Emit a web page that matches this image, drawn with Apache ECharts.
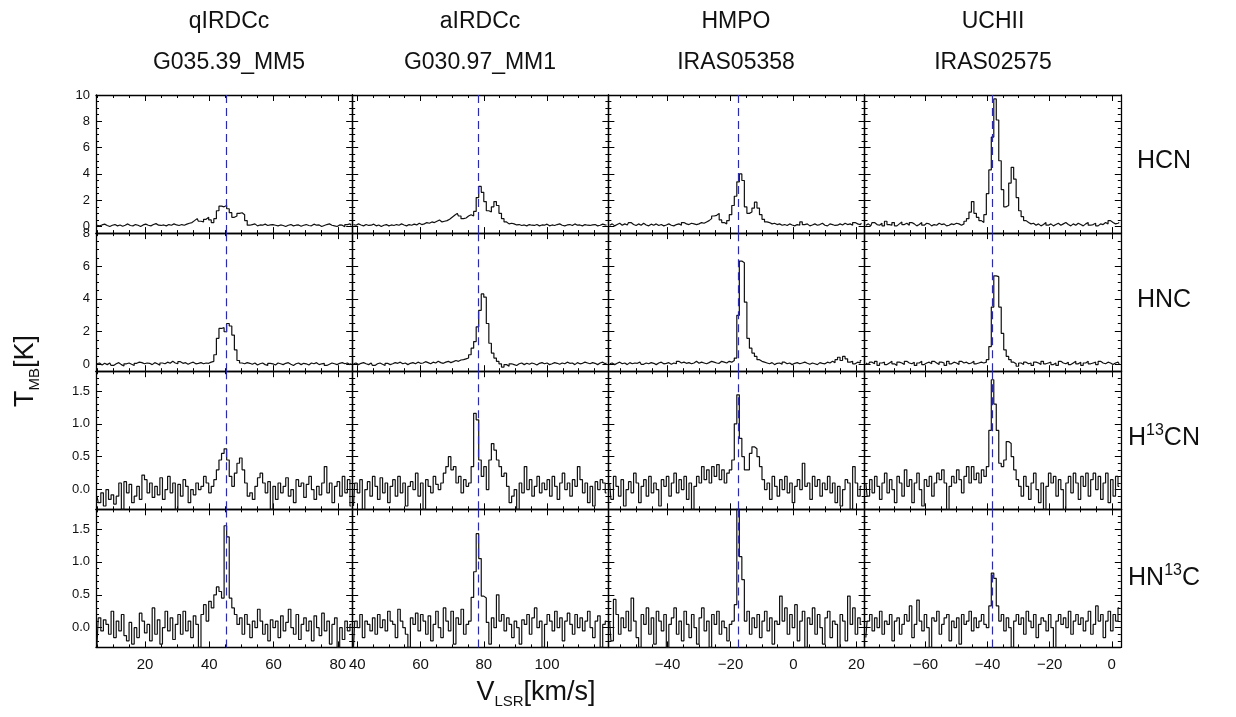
<!DOCTYPE html>
<html>
<head>
<meta charset="utf-8">
<title>HCN / HNC spectra</title>
<script src="https://cdn.jsdelivr.net/npm/echarts@6.0.0/dist/echarts.min.js"></script>
<style>
  html, body { margin: 0; padding: 0; background: #fff; }
  #chart { width: 1236px; height: 717px; }
</style>
</head>
<body>
<div id="chart"></div>
<script>
// columns = sources, rows = lines
const sourceTypes = ['qIRDCc', 'aIRDCc', 'HMPO', 'UCHII'];
const sourceNames = ['G035.39_MM5', 'G030.97_MM1', 'IRAS05358', 'IRAS02575'];
const lineNames = ['HCN', 'HNC', 'H13CN', 'HN13C'];

// velocity grid of each column (km/s)
const velStart = [5.0, 38.8, -58.4, -79.2];
const velStep = 0.8;
const vSys = [45.2, 78.2, -17.6, -38.4];

// axis ranges and tick labels
const xMin = [4.7, 38.4, -58.8, -79.6];
const xMax = [84.5, 119.4, 22.6, 2.9];
const xMajor = [[20, 40, 60, 80], [40, 60, 80, 100], [-40, -20, 0, 20], [-60, -40, -20, 0]];
const xMinorStep = 5;
const yMin = [-0.5, -0.4, -0.3, -0.3];
const yMax = [10, 8, 1.8, 1.8];
const yMajor = [[0, 2, 4, 6, 8, 10], [0, 2, 4, 6, 8], [0, 0.5, 1.0, 1.5], [0, 0.5, 1.0, 1.5]];
const yMinorStep = [0.5, 0.5, 0.1, 0.1];

// T_MB [K] per channel
const hcnG035 = [
  0.1, 0.05, 0.12, 0.18, 0.08, 0.0, 0.1, 0.15, 0.05, 0.12, 0.02, 0.1, 0.2, 0.08, 0.05, 0.15, 0.1, 0.0, 0.12, 0.18,
  0.1, 0.05, 0.15, 0.22, 0.1, 0.08, 0.12, 0.05, 0.15, 0.1, 0.2, 0.12, 0.08, 0.15, 0.1, 0.18, 0.25, 0.3,
  0.45, 0.6, 0.4, 0.35, 0.55, 0.7, 0.5, 0.3, 0.6, 1.2, 1.55, 1.5, 1.6, 1.35, 1.05, 0.7, 0.8, 1.0, 1.05, 0.9, 0.45, 0.1,
  0.15, 0.2, 0.05, 0.12, 0.1, 0.18, 0.08, 0.12, 0.15, 0.1, 0.05, 0.12, 0.08, 0.0, 0.1, 0.15, 0.05, 0.1, 0.12, 0.02,
  0.1, 0.15, 0.08, 0.05, 0.18, 0.1, 0.12, 0.0, 0.08, 0.15, 0.2, 0.1, 0.05, 0.0, 0.12, 0.1, -0.02, 0.15, 0.2, 0.1
];
const hncG035 = [
  0.05, 0.1, -0.02, 0.08, 0.0, 0.1, -0.05, 0.05, 0.12, 0.0, -0.08, 0.05, 0.1, 0.02, -0.05, 0.08, 0.15, 0.12, 0.05, 0.1,
  0.08, 0.0, 0.12, 0.05, -0.03, 0.1, 0.05, 0.15, 0.08, 0.2, 0.1, 0.05, 0.18, 0.08, 0.12, 0.02, 0.1, 0.15, 0.05, 0.08,
  0.12, 0.05, 0.1, 0.08, 0.15,
  0.2, 0.6, 1.6, 2.2, 2.25, 2.0, 2.5, 2.35, 1.8, 0.9, 0.25, 0.1,
  0.05, 0.12, 0.08, 0.02, 0.1, -0.02, 0.05, 0.1, 0.0, -0.05, 0.08, 0.05, -0.02, 0.1, 0.05, 0.0, 0.08, 0.12, 0.02, -0.05,
  0.05, 0.1, 0.0, 0.08, 0.05, -0.02, 0.1, 0.05, 0.12, 0.0, 0.05, 0.08, -0.05, 0.02, 0.1, 0.05, 0.0, 0.08, 0.12, 0.05,
  0.1, 0.0, 0.08
];
const h13cnG035 = [
  -0.1, -0.2, -0.05, -0.25, 0.0, -0.15, -0.08, -0.22, -0.1, 0.1, -0.3, 0.12, -0.05, 0.08, -0.2, -0.1, 0.05, -0.15, 0.22, 0.15,
  -0.05, 0.1, -0.12, 0.05, -0.08, 0.18, -0.15, 0.0, 0.2, -0.05, 0.1, -0.3, 0.08, -0.1, 0.15, 0.05, -0.2, 0.0, -0.08, 0.1,
  0.0, 0.05, 0.2, 0.1, -0.05, 0.05, 0.15, 0.3, 0.45, 0.55, 0.62, 0.45, 0.2, 0.05, 0.25, 0.4, 0.48, 0.3, 0.1, -0.1,
  -0.05, -0.15, 0.05, 0.18, 0.25, 0.1, -0.05, 0.12, -0.3, 0.05, -0.15, 0.1, -0.05, 0.05, 0.18, -0.1, 0.0, -0.2, 0.15, 0.05,
  0.1, -0.12, 0.08, 0.2, 0.0, -0.15, 0.05, -0.08, 0.1, 0.35, -0.05, 0.1, -0.2, 0.05, 0.12, -0.1, 0.2, -0.05, 0.15, -0.25
];
const hn13cG035 = [
  -0.28, 0.15, -0.05, 0.12, 0.05, -0.1, 0.25, -0.15, 0.1, -0.05, 0.2, -0.12, -0.2, 0.08, -0.25, 0.0, -0.15, 0.22, 0.1, -0.08,
  0.05, -0.2, 0.3, -0.1, 0.12, -0.25, 0.0, 0.25, -0.05, 0.15, -0.18, 0.05, 0.2, -0.1, 0.25, -0.05, 0.1, -0.15, 0.18, 0.05,
  -0.3, 0.2, 0.35, 0.1, 0.4,
  0.3, 0.5, 0.62, 0.55, 0.45, 1.55, 1.38, 0.45, 0.3, 0.2,
  0.05, 0.15, -0.1, 0.2, 0.05, -0.15, 0.1, 0.0, 0.28, 0.1, -0.1, 0.05, -0.2, 0.12, 0.0, 0.1, -0.15, 0.18, -0.05, 0.08,
  0.28, 0.0, -0.1, 0.2, -0.18, 0.05, 0.15, -0.05, 0.1, -0.2, 0.18, 0.0, -0.12, 0.22, -0.05, 0.1, -0.25, 0.05, 0.15, -0.3,
  0.0, -0.18, 0.1, -0.05, 0.05
];

const hcnG030 = [
  0.15, 0.1, 0.2, 0.12, 0.05, 0.15, 0.08, 0.1, 0.18, 0.05, 0.12, 0.0, 0.1, 0.15, 0.05, 0.12, 0.08, 0.15, 0.1, 0.2,
  0.12, 0.05, 0.15, 0.1, 0.18, 0.12, 0.25, 0.15, 0.2, 0.3, 0.25, 0.35, 0.3, 0.4, 0.5,
  0.35, 0.4, 0.45, 0.55, 0.7, 0.85, 1.0, 0.8, 0.6, 0.65, 0.8, 0.9, 0.8, 1.15, 2.2, 3.05, 2.6, 1.9, 1.2, 1.1,
  1.5, 1.9, 1.6, 1.0, 0.6, 0.35, 0.2, 0.25,
  0.2, 0.12, 0.15, 0.08, 0.12, 0.05, 0.15, 0.1, 0.08, 0.15, 0.05, 0.12, 0.1, 0.18, 0.05, 0.12, 0.08, 0.15, 0.2, 0.1,
  0.05, 0.12, 0.15, 0.08, 0.2, 0.1, 0.12, 0.05, 0.15, 0.1, 0.08, 0.12, 0.15, 0.05, 0.1, 0.18, 0.12, 0.1
];
const hncG030 = [
  0.05, 0.1, 0.0, 0.08, 0.12, 0.05, 0.0, 0.1, -0.05, 0.05, 0.1, 0.02, -0.05, 0.08, 0.0, 0.05, 0.12, 0.08, 0.15, 0.05,
  0.1, 0.0, 0.08, 0.12, 0.05, 0.15, 0.08, 0.1, 0.18, 0.12, 0.05, 0.15, 0.1, 0.2, 0.12, 0.08, 0.15, 0.2, 0.12, 0.18,
  0.25, 0.2, 0.28, 0.3, 0.35,
  0.4, 0.6, 1.0, 1.4, 2.3, 3.3, 4.3, 4.1, 2.5, 1.3, 0.7, 0.4, 0.2, 0.05, -0.15, 0.0, -0.1, 0.05,
  0.0, -0.05, 0.05, 0.1, 0.0, 0.08, 0.02, 0.1, 0.05, -0.02, 0.08, 0.12, 0.05, 0.1, 0.0, 0.05, 0.12, 0.08, 0.02, 0.1,
  0.05, 0.15, 0.08, 0.1, 0.0, 0.12, 0.05, 0.08, 0.15, 0.1, 0.05, 0.12, 0.08, 0.0, 0.1, 0.15, 0.05, 0.1
];
const h13cnG030 = [
  -0.25, 0.1, -0.05, 0.15, -0.3, 0.0, 0.12, -0.1, 0.2, 0.05, -0.15, 0.18, -0.05, 0.1, -0.2, 0.05, 0.15, -0.1, 0.2, -0.05,
  0.1, -0.25, 0.05, 0.12, 0.0, 0.25, -0.1, 0.1, -0.3, 0.15, 0.05, -0.05, 0.2, 0.08, 0.0,
  0.1, 0.25, 0.35, 0.5, 0.3, 0.35, 0.1, 0.2, -0.05, 0.15, 0.05, 0.1, 0.35, 1.16, 1.06, 0.45, 0.2, 0.35, 0.0, 0.45,
  0.7, 0.6, 0.45, 0.35, 0.2, 0.25, 0.05, -0.2,
  -0.1, 0.0, -0.3, 0.1, -0.05, 0.35, 0.0, 0.15, -0.1, 0.05, 0.2, -0.05, 0.1, 0.0, 0.15, -0.1, 0.2, 0.05, -0.15, 0.1,
  0.25, 0.0, 0.1, -0.1, 0.15, 0.05, 0.35, 0.15, -0.05, 0.1, -0.2, 0.05, -0.25, 0.12, 0.0, 0.15, 0.1, -0.05
];
const hn13cG030 = [
  -0.3, 0.1, 0.0, 0.2, -0.15, 0.1, 0.05, -0.05, 0.15, -0.1, 0.2, 0.0, 0.12, -0.05, 0.25, 0.1, 0.05, -0.15, 0.28, 0.1,
  0.0, -0.1, -0.3, 0.15, 0.05, 0.22, -0.05, 0.2, 0.1, -0.1, 0.18, -0.2, 0.05, 0.25, 0.0, -0.15, 0.3, 0.1, -0.05, 0.25,
  -0.25, 0.15, 0.05, 0.28,
  -0.1, 0.05, 0.1, 0.46, 0.85, 1.43, 1.05, 0.48, 0.45, 0.08, -0.25, 0.15, 0.0, 0.5,
  0.1, 0.2, -0.05, 0.15, 0.05, -0.15, 0.1, 0.0, -0.25, 0.12, 0.05, 0.2, -0.1, 0.15, 0.3, 0.0, 0.1, -0.3, 0.05, 0.2,
  0.1, -0.05, 0.25, 0.0, 0.15, -0.2, 0.1, 0.22, 0.05, -0.1, 0.2, 0.0, 0.15, -0.05, 0.1, 0.25, 0.0, -0.15, 0.1, 0.18,
  -0.3, 0.05, 0.1
];

const hcnI05358 = [
  0.1, 0.2, 0.05, 0.15, 0.25, 0.1, 0.2, 0.12, 0.3, 0.15, 0.08, 0.2, 0.1, 0.25, 0.12, 0.05, 0.18, 0.1, 0.2, 0.08,
  0.15, 0.05, 0.12, 0.2, 0.1, 0.05, 0.15, 0.2, 0.1, 0.3, 0.2, 0.15, 0.25, 0.2, 0.15, 0.2, 0.3, 0.25, 0.35, 0.45,
  0.6, 0.8, 0.85, 1.0, 0.5, 0.3, 0.2, 0.45, 0.9, 1.6, 2.3, 3.4, 4.0, 3.5, 1.5, 1.0, 1.1, 1.4, 1.85, 1.4,
  0.9, 0.55, 0.35, 0.3, 0.2,
  0.25, 0.15, 0.2, 0.1, 0.15, 0.08, 0.2, 0.12, 0.05, 0.15, 0.1, 0.35, 0.15, 0.2, 0.05, 0.12, 0.2, 0.1, 0.15, 0.25,
  0.1, 0.05, 0.2, 0.15, 0.08, 0.1, 0.2, 0.12, 0.25, 0.15, 0.2, 0.1, 0.3, 0.2, 0.15, 0.25
];
const hncI05358 = [
  0.05, 0.1, 0.0, 0.08, 0.15, 0.05, 0.1, 0.0, 0.12, 0.05, 0.1, 0.08, 0.15, 0.02, 0.1, 0.05, 0.12, 0.08, 0.0, 0.1,
  0.15, 0.05, 0.08, 0.12, 0.02, 0.1, 0.05, 0.2, 0.1, 0.15, 0.08, 0.12, 0.05, 0.1, 0.2, 0.08, 0.15, 0.1, 0.05, 0.12,
  0.2, 0.15, 0.1, 0.08, 0.2, 0.15, 0.1, 0.2,
  0.15, 0.25, 0.4, 3.0, 6.3, 6.2, 3.8, 1.6, 1.0, 0.7, 0.5, 0.3, 0.2, 0.15, 0.1,
  0.05, 0.12, 0.0, 0.08, 0.1, 0.02, 0.15, 0.05, 0.1, 0.0, 0.08, 0.12, 0.05, 0.1, 0.15, 0.08, 0.02, 0.1, 0.05, 0.0,
  0.12, 0.08, 0.05, 0.15, 0.1, 0.2, 0.12, 0.3, 0.45, 0.25, 0.5, 0.35, 0.15, 0.2, 0.05, 0.15, 0.1, 0.25
];
const h13cnI05358 = [
  0.1, -0.15, 0.2, 0.05, -0.1, 0.15, -0.25, 0.0, 0.12, -0.05, 0.25, 0.1, -0.2, 0.05, 0.15, -0.1, 0.2, -0.05, 0.1, 0.0,
  -0.25, 0.15, 0.05, 0.2, -0.1, 0.1, 0.25, -0.05, 0.15, 0.0, 0.2, -0.15, 0.1, -0.3, 0.05, 0.2, 0.1, 0.35, 0.15, 0.3,
  0.1, 0.35, 0.2, 0.38, 0.15, 0.3, 0.1, 0.25, 0.3, 0.45, 1.0, 1.44, 0.78, 0.5, 0.3, 0.3, 0.55, 0.65, 0.62, 0.5,
  0.35, 0.15, 0.0,
  0.1, -0.15, 0.2, 0.05, -0.1, 0.15, 0.0, 0.2, -0.05, 0.1, -0.2, 0.05, 0.15, 0.0, 0.4, 0.05, 0.1, -0.15, 0.2, 0.05,
  0.15, -0.1, 0.1, 0.0, 0.2, -0.05, 0.1, -0.2, 0.05, -0.25, 0.0, 0.15, 0.1, -0.3, 0.35, 0.1, -0.1, 0.05
];
const hn13cI05358 = [
  0.1, -0.2, 0.43, 0.2, -0.1, 0.15, 0.0, 0.25, -0.05, 0.45, 0.1, -0.15, -0.3, 0.2, 0.05, 0.3, -0.1, 0.15, -0.25, 0.25,
  0.1, -0.05, 0.2, -0.3, 0.05, 0.15, 0.3, -0.1, 0.1, -0.2, 0.25, 0.05, -0.15, 0.2, 0.0, -0.25, 0.15, 0.3, -0.05, 0.1,
  -0.3, 0.2, 0.05, 0.25, -0.1, 0.1, 0.0, -0.2,
  0.05, 0.1, 0.35, 1.95, 1.08, 0.73, 0.1,
  0.25, -0.1, 0.15, 0.0, 0.2, -0.15, 0.1, 0.25, -0.05, 0.15, -0.25, 0.1, 0.05, 0.48, 0.1, 0.3, -0.1, 0.2, 0.0, 0.35,
  -0.2, 0.1, 0.25, -0.3, 0.15, 0.05, 0.3, -0.1, 0.2, 0.0, -0.25, 0.15, 0.25, -0.15, 0.1, 0.05, -0.3, 0.2, 0.1, -0.2,
  0.48, 0.05, 0.3, -0.1, 0.15, 0.05
];

const hcnI02575 = [
  0.1, 0.2, 0.05, 0.3, 0.15, 0.1, 0.25, 0.05, 0.4, 0.15, 0.1, 0.3, 0.05, 0.2, 0.35, 0.15, 0.25, 0.1, 0.3, 0.2,
  0.05, 0.15, 0.3, 0.1, 0.25, 0.2, 0.05, 0.15, 0.1, 0.25, 0.15, 0.2, 0.05, 0.1, 0.2, 0.15, 0.25, 0.2, 0.1, 0.2,
  0.4, 0.6, 1.1, 1.9, 1.0, 0.7, 0.45, 0.3, 0.9, 2.5, 4.3, 6.8, 9.7, 8.1, 5.0, 2.8, 1.5, 1.6, 3.3, 4.5,
  3.6, 2.2, 1.2, 0.75, 0.45, 0.3, 0.2,
  0.25, 0.1, 0.2, 0.05, 0.15, 0.3, 0.1, 0.2, 0.05, 0.15, 0.25, 0.1, 0.2, 0.3, 0.15, 0.05, 0.2, 0.1, 0.25, 0.15,
  0.05, 0.2, 0.3, 0.1, 0.15, 0.25, 0.05, 0.2, 0.15, 0.3, 0.2, 0.45, 0.3, 0.2, 0.25, 0.3
];
const hncI02575 = [
  0.1, 0.0, 0.15, 0.05, 0.2, -0.05, 0.1, 0.15, 0.0, 0.1, 0.2, 0.05, -0.05, 0.15, 0.1, 0.0, 0.2, 0.1, 0.05, 0.15,
  -0.05, 0.1, 0.2, 0.0, 0.1, 0.15, 0.05, 0.2, 0.1, 0.0, 0.15, 0.1, -0.05, 0.2, 0.05, 0.15, 0.1, 0.0, 0.2, 0.1,
  0.15, 0.05, 0.1, 0.2, 0.05, 0.1, 0.15, 0.1,
  0.15, 0.3, 1.1, 3.5, 5.4, 5.35, 3.5, 1.9, 0.9, 0.5, 0.3, 0.15,
  0.05, -0.1, 0.1, 0.0, 0.15, 0.05, 0.1, -0.05, 0.15, 0.1, 0.0, 0.2, 0.05, 0.1, 0.15, 0.0, 0.1, -0.05, 0.2, 0.1,
  0.05, 0.15, 0.0, 0.1, 0.2, 0.05, 0.15, -0.05, 0.1, 0.2, 0.05, 0.1, 0.15, 0.0, 0.2, 0.1, 0.05, 0.15, 0.1, 0.0,
  0.1, 0.15, 0.05
];
const h13cnI02575 = [
  0.1, -0.1, 0.15, -0.05, 0.2, 0.05, -0.15, 0.1, 0.25, -0.05, 0.15, 0.0, -0.2, 0.2, 0.1, -0.1, 0.3, 0.05, 0.15, -0.2,
  0.1, 0.25, 0.0, -0.25, 0.15, 0.05, 0.2, -0.1, 0.1, 0.25, 0.15, 0.3, 0.1, -0.35, 0.05, 0.2, 0.1, 0.3, 0.15, -0.05,
  0.2, 0.35, 0.1,
  0.35, 0.15, 0.25, 0.1, 0.3, 0.2, 0.35, 0.9, 1.67, 1.3, 0.9, 0.4, 0.35, 0.45, 0.73, 0.7, 0.5, 0.3, 0.15,
  0.05, -0.1, 0.2, 0.05, -0.15, 0.1, 0.25, 0.0, -0.2, 0.1, -0.3, 0.05, 0.25, 0.1, 0.2, -0.1, 0.15, 0.0, -0.35, 0.1,
  0.2, -0.05, 0.25, 0.1, -0.15, 0.2, 0.05, 0.25, -0.1, 0.15, 0.25, 0.0, 0.2, -0.15, 0.1, 0.25, -0.2, 0.15, -0.1, 0.2,
  0.05
];
const hn13cI02575 = [
  -0.15, 0.1, 0.2, -0.05, 0.15, 0.0, 0.25, -0.1, 0.1, 0.05, 0.2, -0.2, 0.1, 0.15, -0.1, 0.05, 0.2, 0.1, 0.33, -0.15,
  0.05, 0.42, 0.1, -0.05, 0.2, 0.0, -0.3, 0.15, 0.1, 0.25, -0.1, 0.05, 0.15, 0.2, -0.2, 0.1, 0.0, 0.15, -0.25, 0.2,
  0.05, 0.1, 0.25, -0.05, 0.15, 0.0, 0.1, 0.2, 0.05,
  0.0, 0.33, 0.83, 0.75, 0.33, 0.1,
  0.2, -0.05, 0.15, 0.0, -0.3, 0.1, 0.2, 0.05, 0.15, -0.1, 0.25, 0.1, 0.0, 0.2, -0.15, 0.05, 0.15, 0.1, -0.05, 0.2,
  0.0, -0.35, 0.1, 0.2, 0.05, 0.15, 0.0, 0.25, -0.1, 0.1, 0.2, 0.05, 0.15, -0.05, 0.1, 0.25, -0.1, 0.05, 0.33, 0.1,
  0.2, -0.15, 0.1, 0.25, -0.05, 0.2, 0.1, 0.3
];

// rows x columns
const spectra = [
  [hcnG035, hcnG030, hcnI05358, hcnI02575],
  [hncG035, hncG030, hncI05358, hncI02575],
  [h13cnG035, h13cnG030, h13cnI05358, h13cnI02575],
  [hn13cG035, hn13cG030, hn13cI05358, hn13cI02575]
];

const FONT = "'Liberation Sans', 'DejaVu Sans', sans-serif";
const left0 = 96, top0 = 95, colW = 256.2, rowH = 138.1;

function ticksBetween(min, max, step) {
    const out = [];
    for (let k = Math.ceil(min / step - 1e-9); k * step <= max + 1e-9; k++) {
        out.push(+(k * step).toFixed(3));
    }
    return out;
}

function inRange(list, min, max) {
    return list.filter(v => v >= min && v <= max);
}

function makeAxis(g, pos, min, max, ticks, major, showLabel, fmt, isX) {
    return {
        type: 'value',
        gridIndex: g,
        position: pos,
        min: min,
        max: max,
        axisLine: { show: major, onZero: false, lineStyle: { color: '#000', width: 1.3 } },
        axisTick: {
            show: true, inside: true, length: major ? 6 : 3,
            customValues: ticks,
            lineStyle: { color: '#000', width: 1 }
        },
        axisLabel: {
            show: showLabel,
            customValues: ticks,
            formatter: fmt,
            color: '#111',
            fontFamily: FONT,
            fontSize: isX ? 15 : 13,
            margin: isX ? 10 : 6
        },
        splitLine: { show: false },
        minorTick: { show: false }
    };
}

const option = {
    animation: false,
    backgroundColor: '#fff',
    grid: [],
    xAxis: [],
    yAxis: [],
    series: [],
    graphic: []
};

for (let r = 0; r < 4; r++) {
    for (let c = 0; c < 4; c++) {
        const g = r * 4 + c;
        option.grid.push({ left: left0 + c * colW, top: top0 + r * rowH, width: colW, height: rowH });

        const xMaj = inRange(xMajor[c], xMin[c], xMax[c]);
        const xMinr = ticksBetween(xMin[c], xMax[c], xMinorStep);
        const xFmt = v => String(v).replace('-', '\u2212');
        ['bottom', 'top'].forEach(pos => {
            option.xAxis.push(makeAxis(g, pos, xMin[c], xMax[c], xMaj, true, pos === 'bottom' && r === 3, xFmt, true));
            option.xAxis.push(makeAxis(g, pos, xMin[c], xMax[c], xMinr, false, false, xFmt, true));
        });

        const yMaj = inRange(yMajor[r], yMin[r], yMax[r]);
        const yMinr = ticksBetween(yMin[r], yMax[r], yMinorStep[r]);
        const yFmt = r < 2 ? (v => String(v)) : (v => v.toFixed(1));
        ['left', 'right'].forEach(pos => {
            option.yAxis.push(makeAxis(g, pos, yMin[r], yMax[r], yMaj, true, pos === 'left' && c === 0, yFmt, false));
            option.yAxis.push(makeAxis(g, pos, yMin[r], yMax[r], yMinr, false, false, yFmt, false));
        });

        const spec = spectra[r][c];
        option.series.push({
            type: 'line',
            name: lineNames[r] + ' ' + sourceNames[c],
            xAxisIndex: g * 4,
            yAxisIndex: g * 4,
            step: 'middle',
            showSymbol: false,
            symbol: 'none',
            clip: true,
            lineStyle: { color: '#111', width: 1.2 },
            data: spec.map((t, i) => [+(velStart[c] + i * velStep).toFixed(2), t]),
            markLine: {
                silent: true,
                symbol: ['none', 'none'],
                label: { show: false },
                lineStyle: { color: '#1f1fff', type: [8, 5], width: 1.2, opacity: 1 },
                data: [{ xAxis: vSys[c] }]
            }
        });
    }
}

// column headers
const headerX = [229, 480, 736, 993];
for (let c = 0; c < 4; c++) {
    option.graphic.push({
        type: 'text', x: headerX[c], y: 22,
        style: { text: sourceTypes[c], font: '23px ' + FONT, fill: '#111',
                 align: 'center', verticalAlign: 'middle', textAlign: 'center', textVerticalAlign: 'middle' }
    });
    option.graphic.push({
        type: 'text', x: headerX[c], y: 63,
        style: { text: sourceNames[c], font: '23px ' + FONT, fill: '#111',
                 align: 'center', verticalAlign: 'middle', textAlign: 'center', textVerticalAlign: 'middle' }
    });
}

// row labels with superscripts
const richLabel = {
    n: { fontSize: 25, fontFamily: FONT, color: '#111', lineHeight: 30 },
    sup: { fontSize: 16, fontFamily: FONT, color: '#111', verticalAlign: 'top', lineHeight: 16 },
    big: { fontSize: 27, fontFamily: FONT, color: '#111', lineHeight: 32 },
    sub: { fontSize: 15, fontFamily: FONT, color: '#111', verticalAlign: 'bottom', lineHeight: 14 }
};
const rowText = ['{n|HCN}', '{n|HNC}', '{n|H}{sup|13}{n|CN}', '{n|HN}{sup|13}{n|C}'];
const rowY = [161, 300, 438, 578];
for (let r = 0; r < 4; r++) {
    option.graphic.push({
        type: 'text', x: 1164, y: rowY[r],
        style: { text: rowText[r], rich: richLabel, fill: '#111',
                 align: 'center', verticalAlign: 'middle', textAlign: 'center', textVerticalAlign: 'middle' }
    });
}

// axis titles
option.graphic.push({
    type: 'text', x: 536, y: 693,
    style: { text: '{big|V}{sub|LSR}{big|[km/s]}', rich: richLabel, fill: '#111',
             align: 'center', verticalAlign: 'middle', textAlign: 'center', textVerticalAlign: 'middle' }
});
option.graphic.push({
    type: 'text', x: 26, y: 371, rotation: Math.PI / 2,
    style: { text: '{big|T}{sub|MB}{big|[K]}', rich: richLabel, fill: '#111',
             align: 'center', verticalAlign: 'middle', textAlign: 'center', textVerticalAlign: 'middle' }
});

const chart = echarts.init(document.getElementById('chart'), null, { renderer: 'canvas' });
chart.setOption(option);
window.addEventListener('resize', () => chart.resize());
</script>
</body>
</html>
